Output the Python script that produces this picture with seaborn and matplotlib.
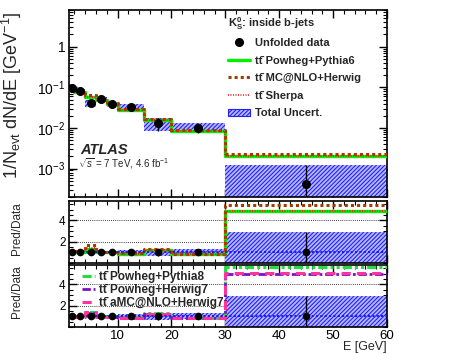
import matplotlib
matplotlib.use("Agg")
import matplotlib.pyplot as plt
import matplotlib.ticker as mticker
from matplotlib.lines import Line2D
from matplotlib.patches import Patch
import numpy as np
import pandas as pd
import seaborn as sns

# ---------------------------------------------------------------------------
# Data
# ---------------------------------------------------------------------------
bin_edges = [1, 2, 4, 6, 8, 10, 15, 20, 30, 60]
data_val = [0.098, 0.079, 0.041, 0.052, 0.038, 0.032, 0.0136, 0.0102, 0.00042]
unc_up = [0.22, 0.12, 0.20, 0.12, 0.15, 0.20, 0.30, 0.33, 1.90]   # relative
unc_dn = [0.22, 0.12, 0.20, 0.12, 0.15, 0.18, 0.38, 0.25, 1.00]   # relative

mc_pythia6 = [0.085, 0.075, 0.058, 0.050, 0.040, 0.028, 0.016, 0.0085, 0.0021]
mc_mcnlo = [0.088, 0.080, 0.064, 0.053, 0.041, 0.029, 0.017, 0.0088, 0.0023]
mc_sherpa = [0.086, 0.076, 0.059, 0.050, 0.040, 0.028, 0.016, 0.0085, 0.0021]

ratio_pythia6 = [0.95, 1.00, 1.35, 1.00, 1.00, 0.85, 1.20, 0.80, 4.90]
ratio_mcnlo = [1.00, 1.15, 1.70, 1.05, 1.00, 0.90, 1.30, 0.85, 5.40]
ratio_sherpa = [0.95, 1.00, 1.40, 1.00, 0.95, 0.85, 1.20, 0.80, 4.85]

ratio_pythia8 = [1.00, 1.05, 1.40, 1.05, 1.00, 0.90, 1.30, 0.85, 5.60]
ratio_herwig7 = [0.90, 1.00, 1.30, 1.00, 0.95, 0.85, 1.20, 0.80, 5.00]
ratio_amc = [0.90, 0.95, 1.45, 0.95, 0.95, 0.85, 1.25, 0.80, 5.05]

TTBAR = "tt\u0304"

# ---------------------------------------------------------------------------
# Style
# ---------------------------------------------------------------------------
sns.set_theme(style="ticks")
plt.rcParams["font.family"] = ["Liberation Sans", "DejaVu Sans"]
plt.rcParams["mathtext.fontset"] = "custom"
plt.rcParams["mathtext.rm"] = "Liberation Sans"
plt.rcParams["mathtext.it"] = "Liberation Sans:italic"
plt.rcParams["mathtext.bf"] = "Liberation Sans:bold"
plt.rcParams["hatch.linewidth"] = 0.8
plt.rcParams["axes.linewidth"] = 1.2

BAND_FACE = "#b8b8ff"
BAND_HATCH = "#2020ff"
HATCH = "////////"

edges = np.array(bin_edges, dtype=float)
widths = np.diff(edges)
centers = edges[:-1] + widths / 2
data = np.array(data_val)
up = np.array(unc_up)
dn = np.array(unc_dn)


def step_line(ax, values, **kw):
    df = pd.DataFrame({"E": edges, "y": list(values) + [values[-1]]})
    sns.lineplot(data=df, x="E", y="y", drawstyle="steps-post", estimator=None,
                 sort=False, ax=ax, legend=False, **kw)


def band(ax, lo, hi):
    ax.bar(edges[:-1], hi - lo, width=widths, bottom=lo, align="edge",
           facecolor=BAND_FACE, edgecolor=BAND_HATCH, hatch=HATCH,
           linewidth=0, zorder=1)


def style_axis(ax):
    ax.tick_params(which="both", direction="in", top=True, right=True,
                   labelsize=8.5, colors="black", pad=2.5)
    ax.tick_params(which="major", length=6, width=1)
    ax.tick_params(which="minor", length=3, width=0.8)
    ax.set_xlim(1, 60)
    ax.xaxis.set_major_locator(mticker.MultipleLocator(10))
    ax.xaxis.set_minor_locator(mticker.MultipleLocator(2))
    ax.set_xlabel("")
    ax.set_ylabel("")
    for s in ax.spines.values():
        s.set_visible(True)
        s.set_color("black")


fig = plt.figure(figsize=(4.56, 3.54), dpi=100)
W, H = 456.0, 354.0
L, R = 69 / W, 387 / W
ax_main = fig.add_axes([L, 1 - 197 / H, R - L, (197 - 10) / H])
ax_r1 = fig.add_axes([L, 1 - 263 / H, R - L, (263 - 201) / H])
ax_r2 = fig.add_axes([L, 1 - 327 / H, R - L, (327 - 265) / H])

# ---------------------------------------------------------------------------
# Main panel
# ---------------------------------------------------------------------------
band(ax_main, np.maximum(data * (1 - dn), 1e-6), data * (1 + up))
step_line(ax_main, mc_pythia6, color="#00ee00", lw=2.4, zorder=3)
step_line(ax_main, mc_mcnlo, color="#a33a00", lw=2.2, linestyle=(0, (1, 1)), zorder=4)
step_line(ax_main, mc_sherpa, color="#ff1010", lw=1.2, linestyle=(0, (0.6, 0.9)), zorder=5)
ax_main.errorbar(centers, data, yerr=[data * np.minimum(dn, 0.999), data * up],
                 fmt="o", color="black", ms=5.5, elinewidth=1.0, capsize=0, zorder=6)
ax_main.set_yscale("log")
ax_main.set_ylim(2e-4, 8)
style_axis(ax_main)
ax_main.tick_params(labelbottom=False)


def log_fmt(v, pos):
    if np.isclose(v, 1):
        return "1"
    e = int(round(np.log10(v)))
    return r"$10^{%d}$" % e


ax_main.yaxis.set_major_locator(mticker.FixedLocator([1e-3, 1e-2, 1e-1, 1]))
ax_main.yaxis.set_major_formatter(mticker.FuncFormatter(log_fmt))
ax_main.yaxis.set_minor_locator(mticker.LogLocator(subs=np.arange(2, 10), numticks=20))
ax_main.yaxis.set_minor_formatter(mticker.NullFormatter())
ax_main.tick_params(axis="y", labelsize=10)

fig.text(80 / W, 1 - 150 / H, "ATLAS", fontsize=10.5, fontweight="bold",
         fontstyle="italic", va="center", ha="left")
fig.text(78 / W, 1 - 164 / H, r"$\sqrt{s}$ = 7 TeV, 4.6 fb$^{-1}$", fontsize=7,
         va="center", ha="left")

fig.text(228 / W, 1 - 24 / H, r"$\mathbf{K^0_S}$: inside b-jets", fontsize=8,
         fontweight="bold", va="center", ha="left")
handles = [
    Line2D([], [], marker="o", color="black", ms=5.5, lw=1.0, linestyle="none"),
    Line2D([], [], color="#00ee00", lw=2.4),
    Line2D([], [], color="#a33a00", lw=2.2, linestyle=(0, (1, 1))),
    Line2D([], [], color="#ff1010", lw=1.2, linestyle=(0, (0.6, 0.9))),
    Patch(facecolor=BAND_FACE, edgecolor=BAND_HATCH, hatch=HATCH, lw=0.8),
]
labels = ["Unfolded data", TTBAR + " Powheg+Pythia6", TTBAR + " MC@NLO+Herwig",
          TTBAR + " Sherpa", "Total Uncert."]
ax_main.legend(handles, labels, loc="upper left",
               bbox_to_anchor=(228 / W, 1 - 38 / H), bbox_transform=fig.transFigure,
               frameon=False, prop={"weight": "bold", "size": 8},
               handlelength=2.0, handletextpad=0.45, labelspacing=0.68,
               borderpad=0, borderaxespad=0)

# ---------------------------------------------------------------------------
# Ratio panels
# ---------------------------------------------------------------------------
def ratio_panel(ax, series):
    band(ax, np.maximum(1 - dn, 0), 1 + up)
    for vals, kw in series:
        step_line(ax, vals, **kw)
    ax.axhline(1, color="#1010ff", lw=1.3, linestyle=(0, (1.2, 1.2)), zorder=6)
    ax.errorbar(centers, np.ones_like(centers), yerr=[np.minimum(dn, 0.999), up],
                fmt="o", color="black", ms=4.5, elinewidth=1.0, capsize=0, zorder=7)
    for g in (2, 4):
        ax.axhline(g, color="black", lw=0.6, linestyle=(0, (1, 1.5)), zorder=0.5)
    ax.set_ylim(0, 5.8)
    style_axis(ax)
    ax.yaxis.set_major_locator(mticker.FixedLocator([2, 4]))
    ax.yaxis.set_minor_locator(mticker.MultipleLocator(0.5))


ratio_panel(ax_r1, [
    (ratio_pythia6, dict(color="#00ee00", lw=2.4, zorder=3)),
    (ratio_mcnlo, dict(color="#a33a00", lw=2.2, linestyle=(0, (1, 1)), zorder=4)),
    (ratio_sherpa, dict(color="#ff1010", lw=1.2, linestyle=(0, (0.6, 0.9)), zorder=5)),
])
ax_r1.tick_params(labelbottom=False)

ratio_panel(ax_r2, [
    (ratio_pythia8, dict(color="#22dd44", lw=2.2, linestyle=(0, (3, 1, 1, 1, 1, 1)), zorder=3)),
    (ratio_herwig7, dict(color="#7a10c8", lw=2.0, linestyle=(0, (3, 1, 1, 1)), zorder=4)),
    (ratio_amc, dict(color="#ff3399", lw=2.2, linestyle=(0, (3, 2)), zorder=5)),
])
ax_r2.tick_params(axis="x", labelsize=9.5, pad=2)

h2 = [
    Line2D([], [], color="#22dd44", lw=2.2, linestyle=(0, (3, 1, 1, 1, 1, 1))),
    Line2D([], [], color="#7a10c8", lw=2.0, linestyle=(0, (3, 1, 1, 1))),
    Line2D([], [], color="#ff3399", lw=2.2, linestyle=(0, (3, 2))),
]
l2 = [TTBAR + " Powheg+Pythia8", TTBAR + " Powheg+Herwig7", TTBAR + " aMC@NLO+Herwig7"]
ax_r2.legend(h2, l2, loc="upper left", bbox_to_anchor=(82 / W, 1 - 271 / H),
             bbox_transform=fig.transFigure, frameon=False,
             prop={"weight": "bold", "size": 8.5}, handlelength=1.1,
             handletextpad=0.35, labelspacing=0.1, borderpad=0, borderaxespad=0)

# axis labels
fig.text(12 / W, 1 - 95 / H, r"1/N$_{\mathrm{evt}}$ dN/dE [GeV$^{-1}$]", rotation=90,
         fontsize=13, va="center", ha="center")
fig.text(17 / W, 1 - 229 / H, "Pred/Data", rotation=90, fontsize=8.5,
         va="center", ha="center")
fig.text(17 / W, 1 - 292 / H, "Pred/Data", rotation=90, fontsize=8.5,
         va="center", ha="center")
fig.text(387 / W, 1 - 347 / H, "E [GeV]", fontsize=9, ha="right", va="center")

fig.savefig("out.png", dpi=100)
